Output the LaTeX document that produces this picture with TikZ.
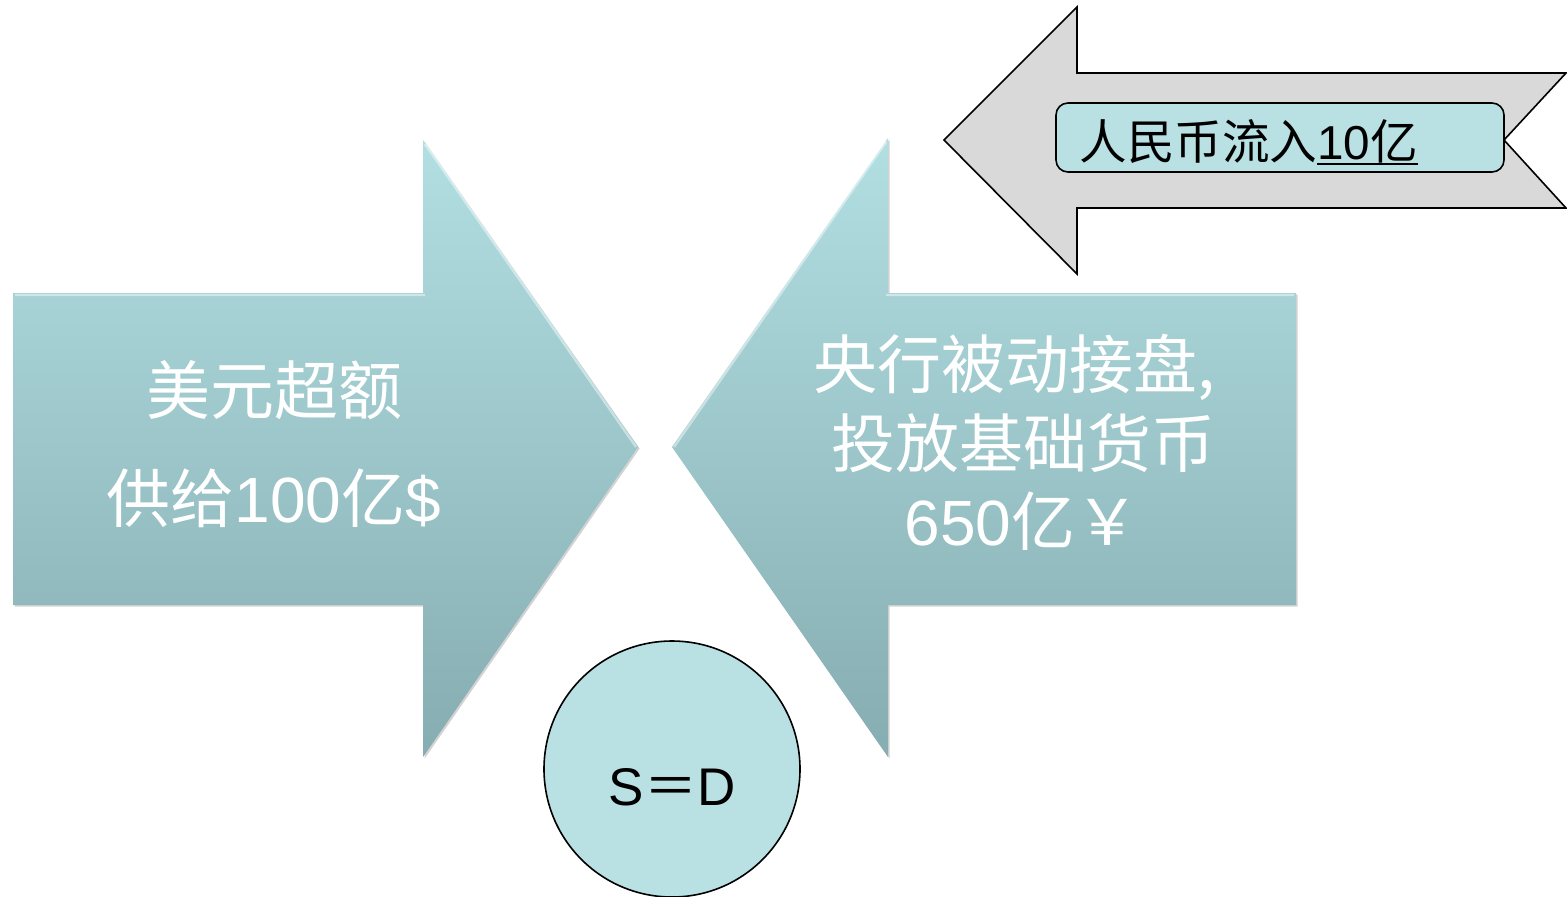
\documentclass[tikz,border=0pt]{standalone}
\usepackage{fontspec}
\setmainfont{Liberation Sans}
\newfontfamily\cjk{Noto Sans CJK SC}
\usetikzlibrary{shadows}
\definecolor{tealtop}{HTML}{B2DFE2}
\definecolor{tealbot}{HTML}{86ADB1}
\definecolor{circfill}{HTML}{B9E0E3}
\definecolor{arrowgray}{HTML}{D9D9D9}
\newcommand{\thickul}[1]{\setbox0\hbox{#1}\rlap{\raisebox{-3pt}{\rule{\wd0}{1.2pt}}}\box0}
\begin{document}
\begin{tikzpicture}[x=0.5pt,y=-0.5pt,
  bigarrow/.style={top color=tealtop,bottom color=tealbot,draw=none,
    drop shadow={shadow xshift=0.8pt,shadow yshift=-0.8pt,opacity=0.35,fill=gray}},
  bevel/.style={draw=white,draw opacity=0.45,line width=1.2pt},
  bigtext/.style={text=white,inner sep=0pt,font=\fontsize{32}{38}\selectfont},
  grayarrow/.style={fill=arrowgray,draw=black,line width=0.8pt,line join=miter},
  labelbox/.style={fill=circfill,draw=black,line width=0.8pt,rounded corners=6pt},
  toptext/.style={text=black,inner sep=0pt,anchor=west,font=\fontsize{23.8}{28}\selectfont},
  eqcircle/.style={circle,draw=black,fill=circfill,line width=0.8pt,minimum size=128pt,inner sep=0pt},
  eqtext/.style={text=black,inner sep=0pt,font=\fontsize{26.5}{30}\selectfont}]
\useasboundingbox (0,0) rectangle (1567,896);
% left big arrow
\path[bigarrow] (13,293) -- (423,293) -- (423,140) -- (638,447) -- (423,757) -- (423,605) -- (13,605) -- cycle;
\draw[bevel] (15,295) -- (425,295) (425,144) -- (636,447);
% right big arrow
\path[bigarrow] (1296,293) -- (888,293) -- (888,138) -- (672,447) -- (888,757) -- (888,605) -- (1296,605) -- cycle;
\draw[bevel] (1294,295) -- (886,295) (886,142) -- (674,447);
% texts in big arrows
\node[bigtext] (l1) at (274,390) {\cjk 美元超额};
\node[bigtext] (l2) at (274,498) {{\cjk 供给}100{\cjk 亿}\$};
\node[bigtext] (r1) at (1014,367) {\cjk 央行被动接盘,};
\node[bigtext] (r2) at (1023,443) {\cjk 投放基础货币};
\node[bigtext] (r3) at (1022,521) {650{\cjk 亿￥}};
% top gray arrow
\path[grayarrow] (944,140) -- (1077,7) -- (1077,73) -- (1566,73) -- (1504,140) -- (1566,208) -- (1077,208) -- (1077,274) -- cycle;
\draw[labelbox] (1056,103) rectangle (1504,172);
\node[toptext] (t1) at (1079,142) {{\cjk 人民币流入}\thickul{10{\cjk 亿}}};
% circle
\node[eqcircle] (sd) at (672,769) {};
\node[eqtext] (sdt) at (672,787) {S{\cjk ＝}D};
\end{tikzpicture}
\end{document}
